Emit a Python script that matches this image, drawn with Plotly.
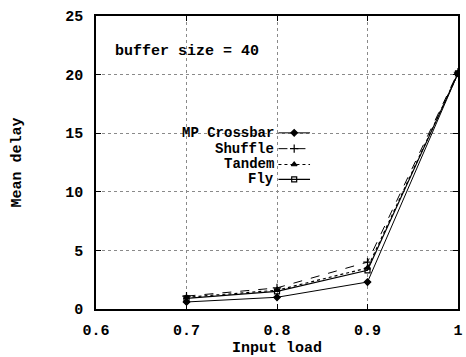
import plotly.graph_objects as go

load = [0.7, 0.8, 0.9, 1.0]
mp_crossbar = [0.6, 1.0, 2.3, 20.1]
shuffle = [1.1, 1.8, 4.0, 20.2]
tandem = [1.0, 1.6, 3.5, 20.1]
fly = [0.9, 1.5, 3.3, 20.1]

names = ["MP Crossbar", "Shuffle", "Tandem", "Fly"]
series = [mp_crossbar, shuffle, tandem, fly]
x_ticks = [0.6, 0.7, 0.8, 0.9, 1.0]
x_ticktext = ["0.6", "0.7", "0.8", "0.9", "1"]
y_ticks = [0, 5, 10, 15, 20, 25]

styles = [
    dict(dash="solid", width=1.0, symbol="diamond", size=5),
    dict(dash="dash", width=1.0, symbol="cross-thin", size=6),
    dict(dash="dot", width=1.2, symbol="triangle-up", size=5),
    dict(dash="solid", width=1.2, symbol="square-open", size=5),
]

FONT = dict(family="Liberation Mono, Courier New, monospace", size=15, color="black", weight="bold")
LEG_FONT = dict(family="Liberation Mono, Courier New, monospace", size=14, color="black", weight="bold")

fig = go.Figure()
for name, vals, st in zip(names, series, styles):
    fig.add_trace(go.Scatter(
        x=load, y=vals, mode="lines+markers", name=name, showlegend=False,
        line=dict(color="black", width=st["width"], dash=st["dash"]),
        marker=dict(symbol=st["symbol"], size=st["size"], color="black",
                    line=dict(color="black", width=1.2)),
    ))

# legend (text to the left of the sample, like the original)
leg_y = [15.03, 13.68, 12.33, 11.06]
for name, ly, st in zip(names, leg_y, styles):
    fig.add_trace(go.Scatter(
        x=[0.8016, 0.8365], y=[ly, ly], mode="lines", showlegend=False,
        line=dict(color="black", width=st["width"], dash=st["dash"]), hoverinfo="skip"))
    fig.add_trace(go.Scatter(
        x=[0.819], y=[ly], mode="markers", showlegend=False, hoverinfo="skip",
        marker=dict(symbol=st["symbol"], size=st["size"], color="black",
                    line=dict(color="black", width=1.2))))
    fig.add_annotation(x=0.7973, y=ly, xref="x", yref="y", text=name, showarrow=False,
                       xanchor="right", yanchor="middle", font=LEG_FONT, borderpad=0)

fig.add_annotation(x=0.046, y=0.878, xref="paper", yref="paper", text="buffer size = 40",
                   showarrow=False, xanchor="left", yanchor="middle", font=FONT)

axis_common = dict(
    showline=True, linecolor="black", linewidth=1.5, mirror="ticks",
    ticks="inside", ticklen=5, tickcolor="black", tickwidth=1,
    showgrid=True, gridcolor="#8a8a8a", griddash="dot", gridwidth=1,
    zeroline=False, tickfont=FONT,
)

fig.update_xaxes(range=[0.6, 1.0], tickvals=x_ticks, ticktext=x_ticktext,
                 title=dict(text="Input load", font=FONT, standoff=4),
                 ticklabelstandoff=6, **axis_common)
fig.update_yaxes(range=[0, 25], tickvals=y_ticks,
                 title=dict(text="Mean delay", font=FONT, standoff=40),
                 ticklabelstandoff=8, **axis_common)

fig.update_layout(
    width=466, height=357, autosize=False,
    margin=dict(l=96, r=3, t=16, b=45),
    paper_bgcolor="white", plot_bgcolor="white",
    font=FONT,
)

fig.write_html("out.html")
